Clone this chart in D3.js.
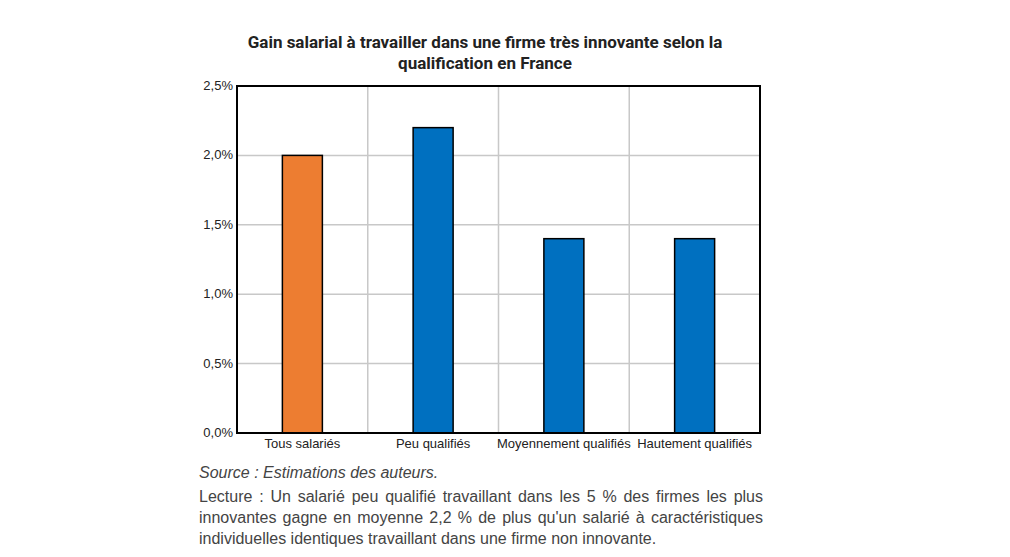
<!DOCTYPE html>
<html><head><meta charset="utf-8">
<script src="https://cdn.jsdelivr.net/npm/d3@7"></script>
<style>
body{margin:0;background:#fff;}
.cap{position:absolute;left:199px;width:564px;font-family:"Liberation Sans Narrow","Liberation Sans",Arial,sans-serif;font-size:16px;color:#444;line-height:21px;text-align:justify;}
</style></head><body>
<svg id="c" width="1010" height="470"></svg>
<div class="cap" style="top:462px;font-style:italic;">Source : Estimations des auteurs.</div>
<div class="cap" style="top:486px;">Lecture : Un salarié peu qualifié travaillant dans les 5 % des firmes les plus innovantes gagne en moyenne 2,2 % de plus qu'un salarié à caractéristiques individuelles identiques travaillant dans une firme non innovante.</div>
<script>
var categories = ["Tous salariés", "Peu qualifiés", "Moyennement qualifiés", "Hautement qualifiés"];
var values = [2.0, 2.2, 1.4, 1.4];
var colors = ["#ED7D31", "#0070C0", "#0070C0", "#0070C0"];
var yTicks = [0, 0.5, 1.0, 1.5, 2.0, 2.5];

var pLeft = 237, pRight = 760, pTop = 86, pBottom = 433;
var svg = d3.select("#c");
var font = '"Liberation Sans Narrow","Liberation Sans",Arial,sans-serif';

svg.append("text").attr("x", 485).attr("y", 48).attr("text-anchor", "middle")
  .style("font-family", "Roboto").style("font-weight", "bold").style("font-size", "17px").attr("fill", "#222")
  .text("Gain salarial à travailler dans une firme très innovante selon la");
svg.append("text").attr("x", 485).attr("y", 69).attr("text-anchor", "middle")
  .style("font-family", "Roboto").style("font-weight", "bold").style("font-size", "17px").attr("fill", "#222")
  .text("qualification en France");

var x = d3.scaleBand().domain(categories).range([pLeft, pRight]);
var y = d3.scaleLinear().domain([0, 2.5]).range([pBottom, pTop]);

svg.selectAll(".hg").data(yTicks).enter().append("line")
  .attr("x1", pLeft).attr("x2", pRight).attr("y1", d => y(d)).attr("y2", d => y(d))
  .attr("stroke", "#c8c8c8").attr("stroke-width", 1.5);
svg.selectAll(".vg").data(categories.slice(1)).enter().append("line")
  .attr("x1", d => x(d)).attr("x2", d => x(d)).attr("y1", pTop).attr("y2", pBottom)
  .attr("stroke", "#c8c8c8").attr("stroke-width", 1.5);

svg.selectAll(".bar").data(values).enter().append("rect")
  .attr("x", (d, i) => x(categories[i]) + x.bandwidth() / 2 - 20)
  .attr("width", 40)
  .attr("y", d => y(d)).attr("height", d => pBottom - y(d))
  .attr("fill", (d, i) => colors[i]).attr("stroke", "#000").attr("stroke-width", 1.5);

svg.append("rect").attr("x", pLeft).attr("y", pTop).attr("width", pRight - pLeft).attr("height", pBottom - pTop)
  .attr("fill", "none").attr("stroke", "#000").attr("stroke-width", 2);

svg.selectAll(".yl").data(yTicks).enter().append("text")
  .attr("x", 233).attr("y", d => y(d) + 4).attr("text-anchor", "end")
  .style("font-family", font).style("font-size", "13px").attr("fill", "#222")
  .text(d => d.toFixed(1).replace(".", ",") + "%");

svg.selectAll(".xl").data(categories).enter().append("text")
  .attr("x", d => x(d) + x.bandwidth() / 2).attr("y", 448).attr("text-anchor", "middle")
  .style("font-family", font).style("font-size", "13px").attr("fill", "#222")
  .text(d => d);
</script>
</body></html>
